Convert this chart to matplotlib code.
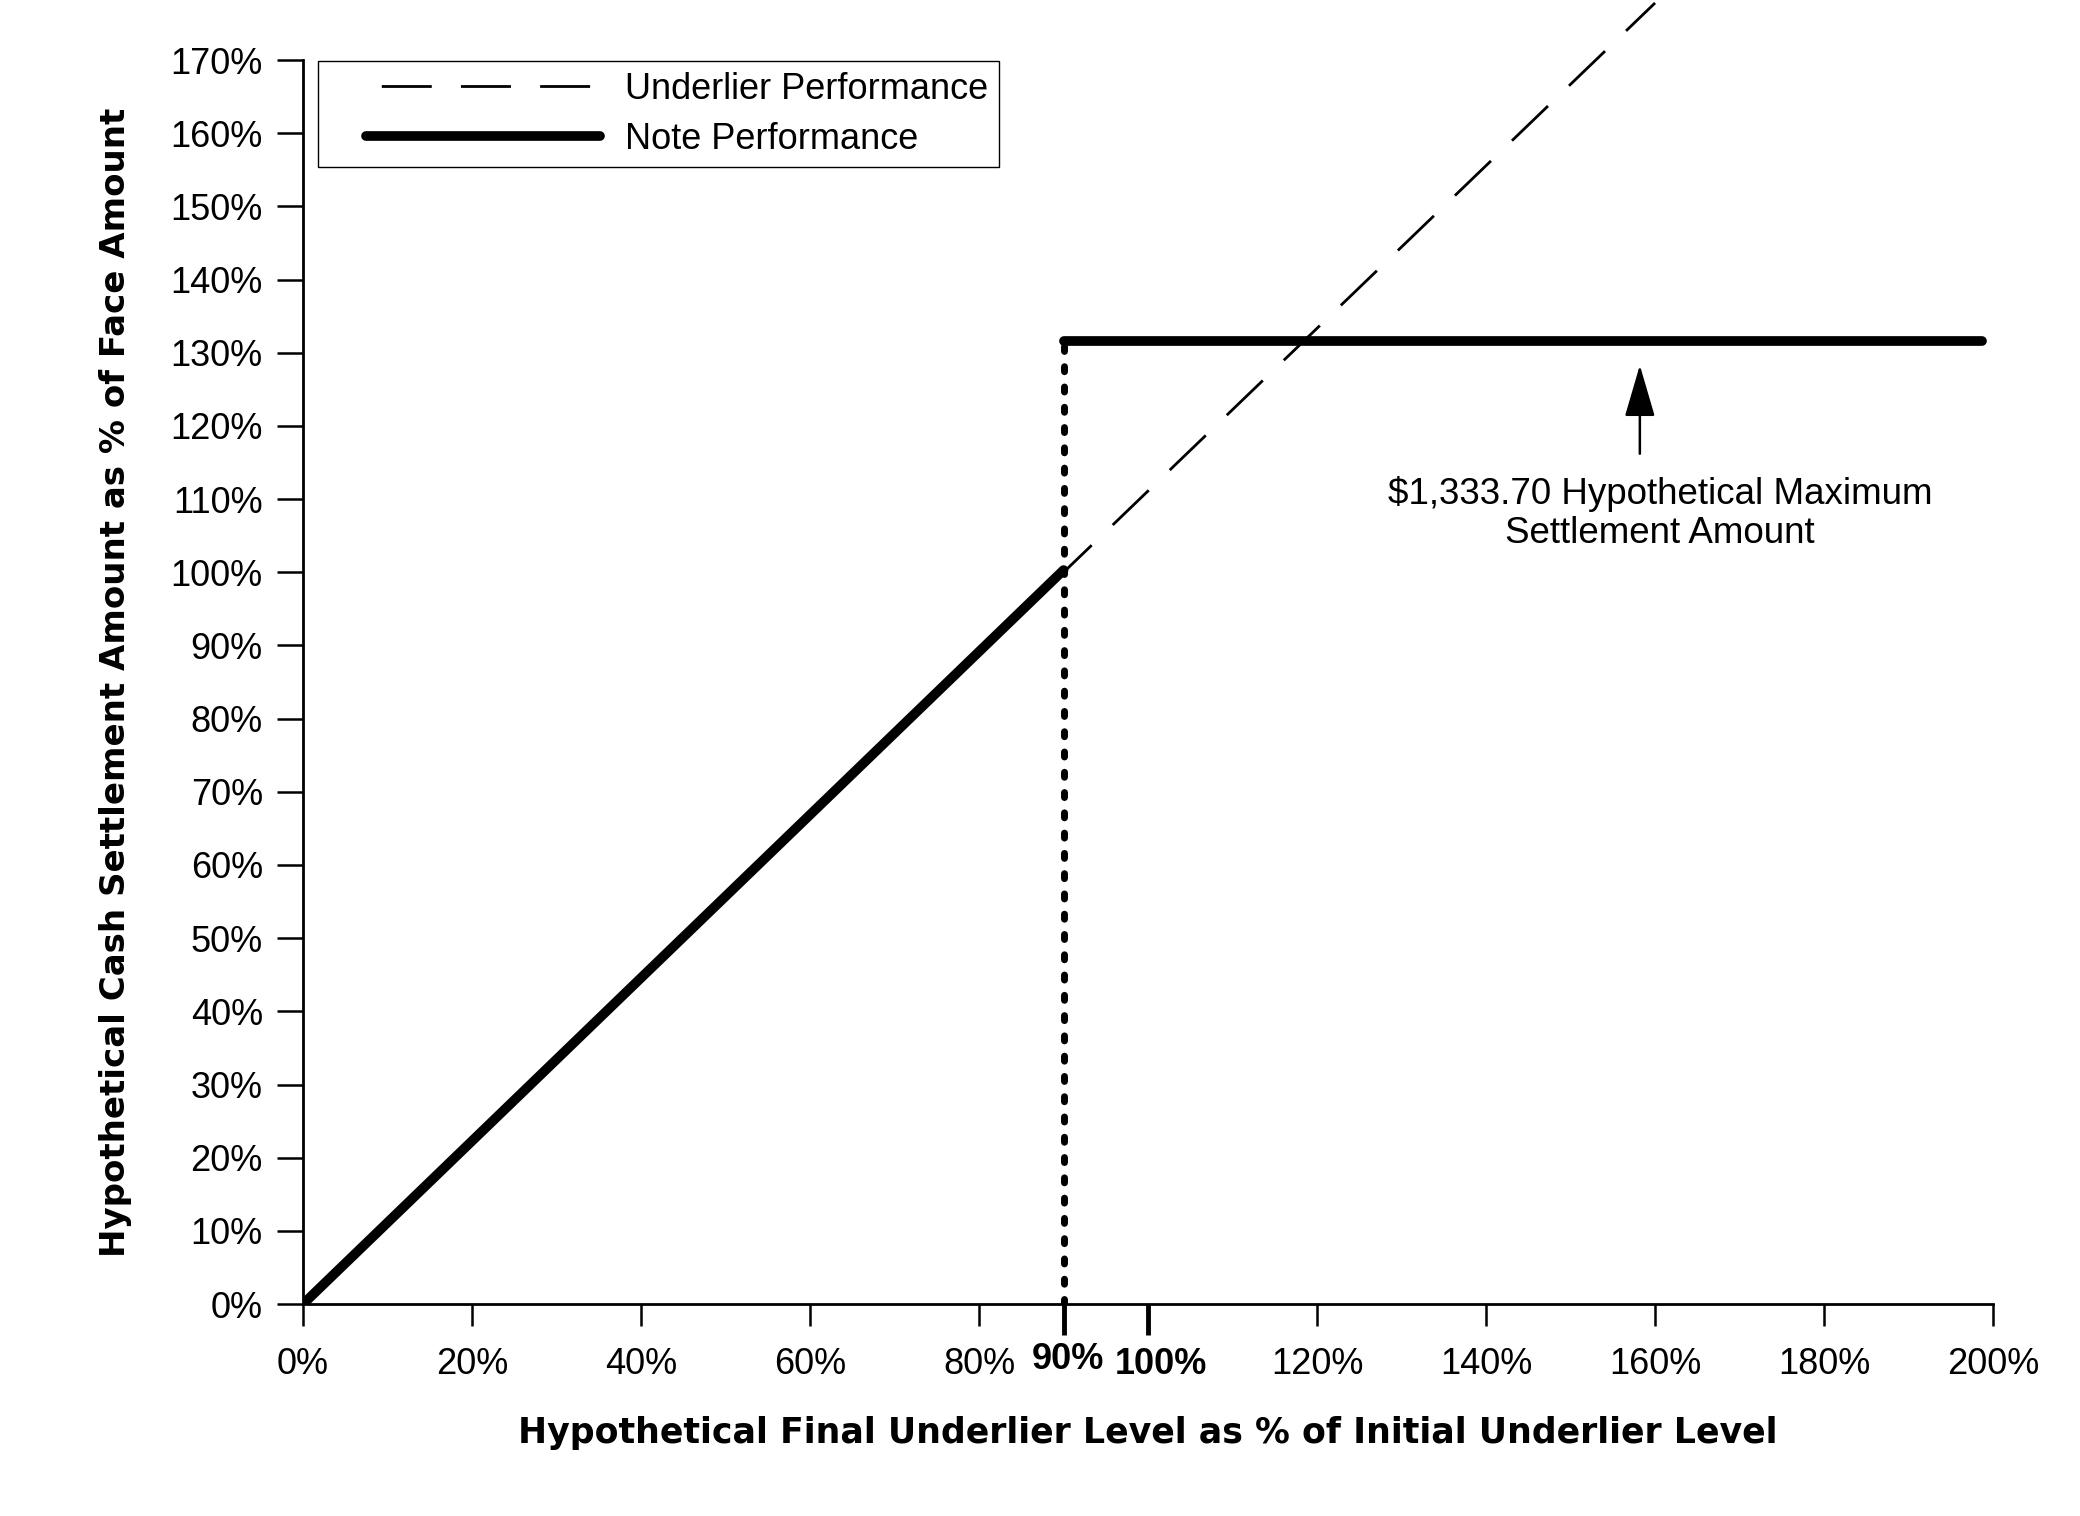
import numpy as np
import matplotlib
matplotlib.use('Agg')
import matplotlib.pyplot as plt
import matplotlib.transforms as mtransforms
from matplotlib.ticker import FixedLocator
from matplotlib.legend_handler import HandlerLine2D

plt.rcParams['font.family'] = ['Liberation Sans', 'DejaVu Sans']
plt.rcParams['lines.scale_dashes'] = False

# ---- data (values in %) ----
underlier_x = [0, 90, 160]
underlier_y = [0, 100, 177.8]

note_x = [0, 90]
note_y = [0, 100.3]
cap_x = [90, 198.7]
cap_y = [131.6, 131.6]
barrier_x = 90

arrow_x = 158.2
arrow_from = 116.2
arrow_to = 128.3
note_text = "$1,333.70 Hypothetical Maximum\nSettlement Amount"
text_x, text_y = 160.6, 108.0

xticks = [0, 20, 40, 60, 80, 90, 100, 120, 140, 160, 180, 200]
yticks = list(range(0, 171, 10))
bold_xticks = [90, 100]

fig = plt.figure(figsize=(20.8, 15.16), dpi=100)
ax = fig.add_axes([0.1457, 0.1398, 0.8125, 0.8206])

# underlier (thin dashed, runs off the top of the figure)
ax.plot(underlier_x, underlier_y, color='k', lw=2, linestyle=(46, (36, 21)),
        clip_on=False, label='Underlier Performance', zorder=2)

# note performance
ax.plot(note_x, note_y, color='k', lw=7, solid_capstyle='round',
        label='Note Performance', zorder=3)
ax.plot(cap_x, cap_y, color='k', lw=7, solid_capstyle='round', zorder=3)
ax.plot([barrier_x, barrier_x], [0, cap_y[0]], color='k', lw=5,
        dashes=(3.6, 11), dash_capstyle='round', zorder=3)

# annotation
ax.annotate('', xy=(arrow_x, arrow_to), xytext=(arrow_x, arrow_from),
            arrowprops=dict(arrowstyle='-|>,head_length=1.3,head_width=0.38',
                            mutation_scale=25, color='k', lw=1.8,
                            shrinkA=0, shrinkB=0))
ax.text(text_x, text_y, note_text, ha='center', va='center', fontsize=26.5,
        linespacing=1.15)

# axes
ax.set_xlim(0, 200)
ax.set_ylim(0, 170)
for s in ['top', 'right']:
    ax.spines[s].set_visible(False)
for s in ['left', 'bottom']:
    ax.spines[s].set_linewidth(2)

ax.xaxis.set_major_locator(FixedLocator(xticks))
ax.set_xticklabels([f'{t}%' for t in xticks])
ax.yaxis.set_major_locator(FixedLocator(yticks))
ax.set_yticklabels([f'{t}%' for t in yticks])
ax.tick_params(axis='x', direction='out', length=16, width=1.8, pad=15, labelsize=26)
ax.tick_params(axis='y', direction='out', length=19, width=1.8, pad=10, labelsize=26)

shifts = {90: (3, 4), 100: (9, 0)}
for tick, val in zip(ax.xaxis.get_major_ticks(), xticks):
    if val in bold_xticks:
        tick.tick1line.set_markersize(22)
        tick.tick1line.set_markeredgewidth(3.5)
        tick.label1.set_fontweight('bold')
        dx, dy = shifts[val]
        off = mtransforms.ScaledTranslation(dx / 72, dy / 72, fig.dpi_scale_trans)
        tick.label1.set_transform(tick.label1.get_transform() + off)

ax.set_xlabel('Hypothetical Final Underlier Level as % of Initial Underlier Level',
              fontsize=25, fontweight='bold', family='DejaVu Sans')
ax.set_ylabel('Hypothetical Cash Settlement Amount as % of Face Amount',
              fontsize=24.5, fontweight='bold', family='DejaVu Sans')
ax.xaxis.set_label_coords(0.5, -0.09)
ax.yaxis.set_label_coords(-0.101, 0.5)

leg = ax.legend(loc='upper left', bbox_to_anchor=(0.0089, 0.999), borderaxespad=0,
                fontsize=26, handlelength=7.5, handletextpad=0.7, labelspacing=0.4,
                fancybox=False, framealpha=1, edgecolor='k', borderpad=0.3,
                handler_map={matplotlib.lines.Line2D: HandlerLine2D(xpad=1.03)})
leg.get_frame().set_linewidth(1)

fig.savefig('out.png', dpi=100)
